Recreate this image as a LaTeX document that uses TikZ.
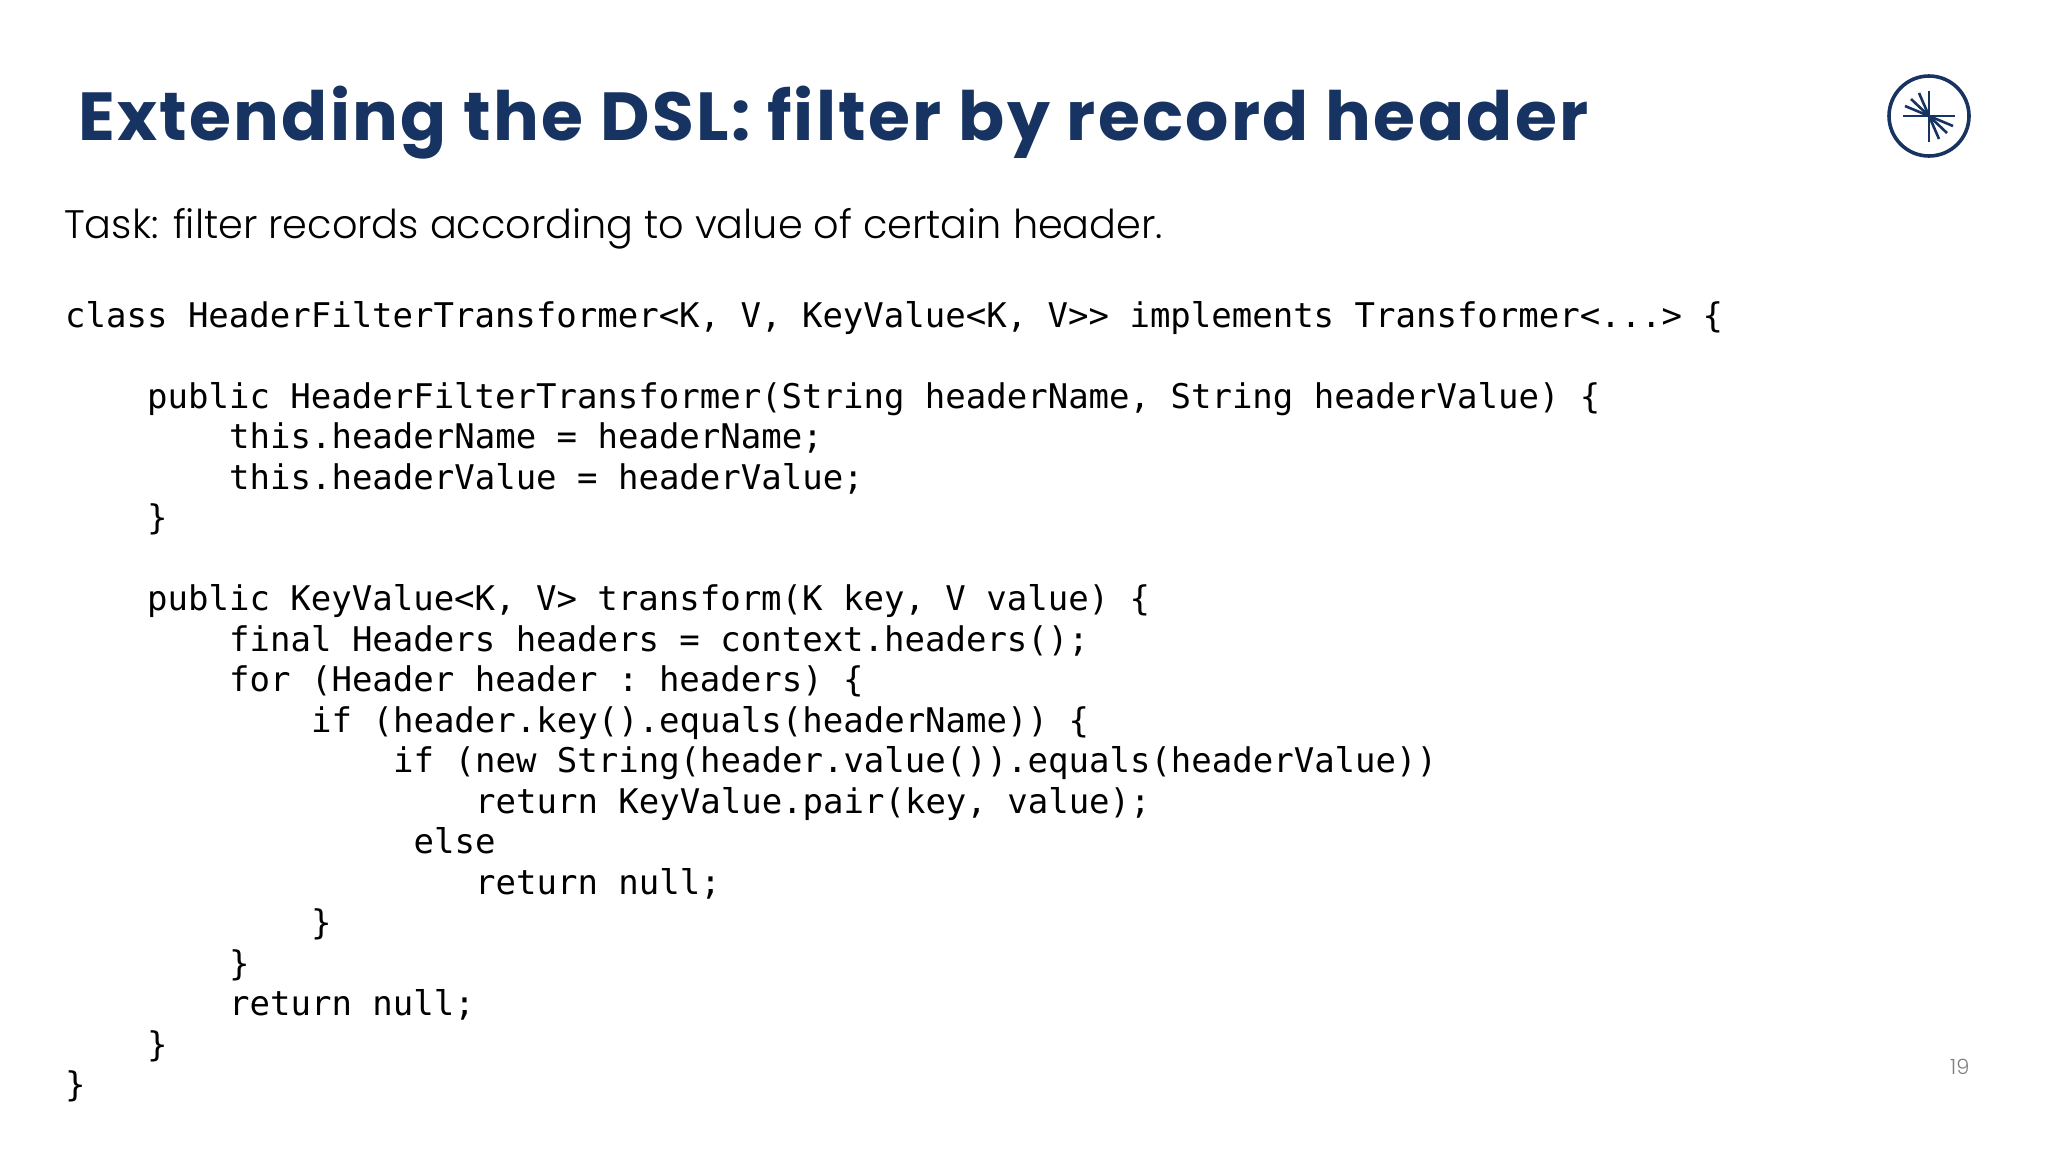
\documentclass[tikz,border=0pt]{standalone}
\usepackage{fontspec}
\setmonofont{DejaVu Sans Mono}
\newfontfamily\titlefont[LetterSpace=3.4]{Poppins}
\newfontfamily\taskfont{Poppins Light}
\definecolor{navy}{HTML}{173361}
\definecolor{pagegray}{HTML}{808080}

\begin{document}
\begin{tikzpicture}[x=1pt, y=-1pt]
  \tikzstyle{titletext}=[anchor=base west, inner sep=0pt, text=navy, font=\titlefont\bfseries\fontsize{68}{68}\selectfont]
  \tikzstyle{tasktext}=[anchor=base west, inner sep=0pt, font=\taskfont\fontsize{39.8}{40}\selectfont]
  \tikzstyle{code}=[anchor=base west, inner sep=0pt, font=\ttfamily\fontsize{34}{34}\selectfont]
  \tikzstyle{spoke}=[navy, line width=2.6pt]

  \useasboundingbox (0, 0) rectangle (2048, 1152);

  \node[titletext] (Title) at (78, 140) {Extending the DSL: filter by record header};
  \node[tasktext] (Task) at (64, 238) {Task: filter records according to value of certain header.};

  \node[code] (ClassLine) at (65, 327) {class HeaderFilterTransformer<K, V, KeyValue<K, V>> implements Transformer<...> \{};

  \node[code] (Ctor) at (147, 408) {public HeaderFilterTransformer(String headerName, String headerValue) \{};
  \node[code] (SetName) at (229, 448.5) {this.headerName = headerName;};
  \node[code] (SetValue) at (229, 489) {this.headerValue = headerValue;};
  \node[code] (CtorEnd) at (147, 529.5) {\}};

  \node[code] (Transform) at (147, 610.5) {public KeyValue<K, V> transform(K key, V value) \{};
  \node[code] (Headers) at (229, 651) {final Headers headers = context.headers();};
  \node[code] (For) at (229, 691.5) {for (Header header : headers) \{};
  \node[code] (IfKey) at (311, 732) {if (header.key().equals(headerName)) \{};
  \node[code] (IfValue) at (393, 772.5) {if (new String(header.value()).equals(headerValue))};
  \node[code] (RetPair) at (475, 813) {return KeyValue.pair(key, value);};
  \node[code] (Else) at (413.5, 853.5) {else};
  \node[code] (RetNull) at (475, 894) {return null;};
  \node[code] (IfKeyEnd) at (311, 934.5) {\}};
  \node[code] (ForEnd) at (229, 975) {\}};
  \node[code] (RetEnd) at (229, 1015.5) {return null;};
  \node[code] (TransformEnd) at (147, 1056) {\}};
  \node[code] (ClassEnd) at (65, 1096.5) {\}};

  \node[anchor=base west, inner sep=0pt, text=pagegray, font=\taskfont\fontsize{21}{21}\selectfont] (PageNo) at (1950, 1074) {19};

  % logo
  \coordinate (Hub) at (1929, 116);
  \node[draw=navy, line width=3.6pt, circle, minimum size=80pt, inner sep=0pt] (Logo) at (Hub) {};
  \coordinate (Top) at (1929, 91);
  \coordinate (Bottom) at (1929, 142);
  \coordinate (Left) at (1903, 116);
  \coordinate (Right) at (1955, 116);
  \draw[spoke] (Top) -- (Bottom);
  \draw[spoke] (Left) -- (Right);
  \foreach \dx/\dy in {-10/-23, -18/-17, -24/-10, 10/23, 18/17, 24/10} {
    \draw[spoke] (Hub) -- ++(\dx, \dy);
  }
\end{tikzpicture}
\end{document}
